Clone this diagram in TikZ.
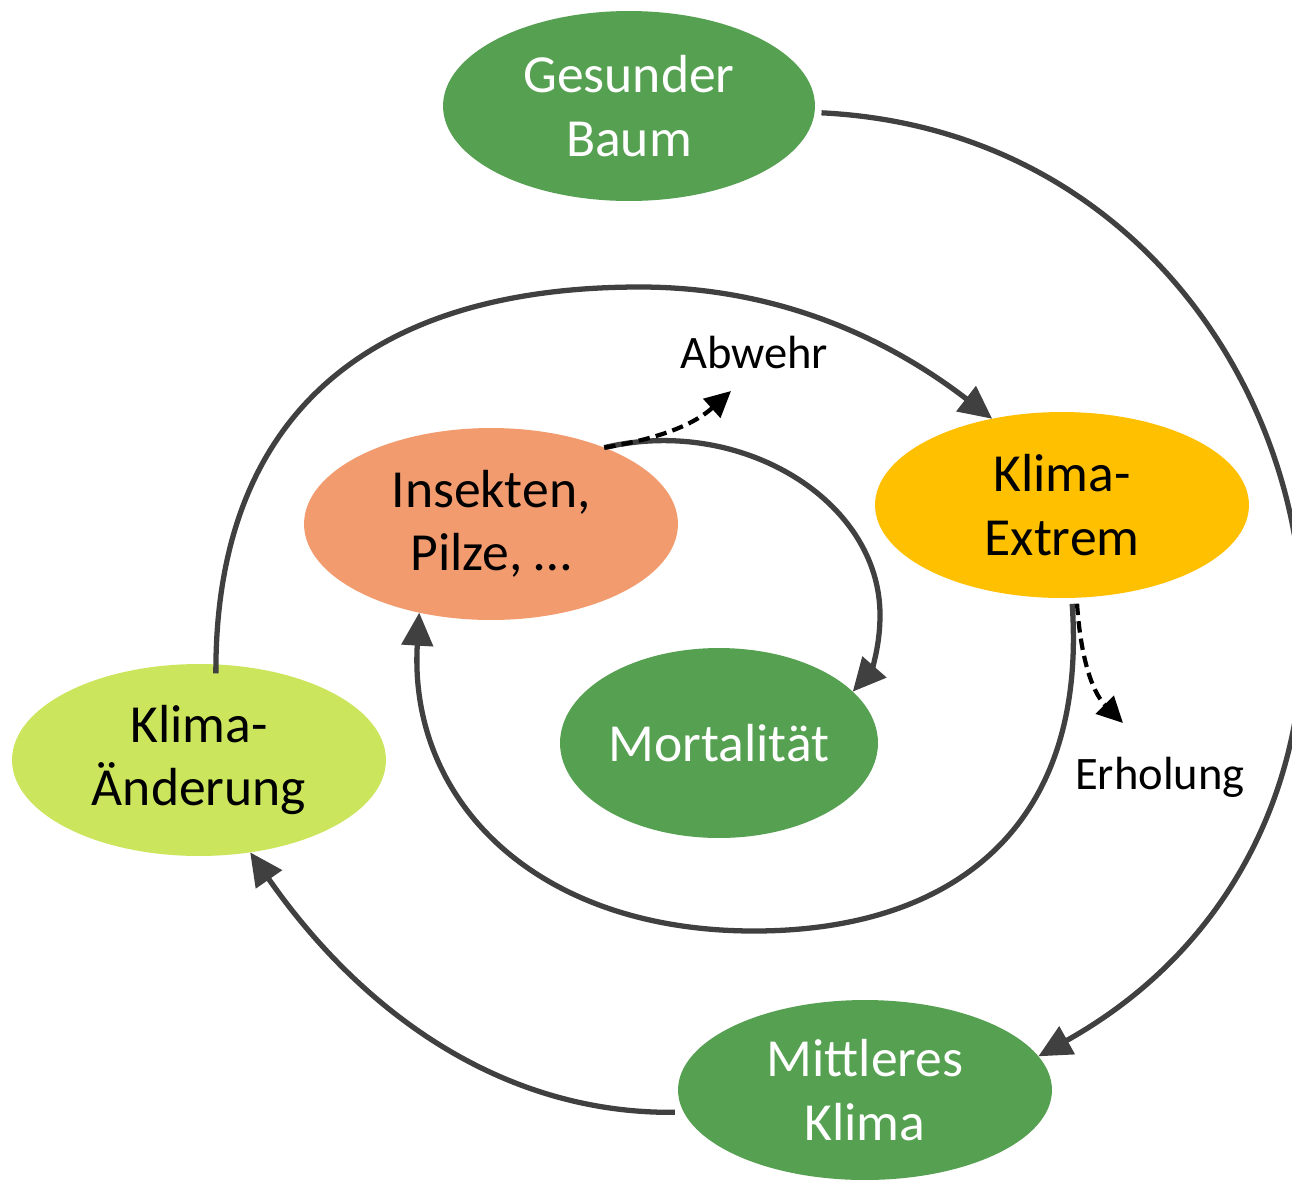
\documentclass[tikz,border=0pt]{standalone}
\usepackage{fontspec}
\setmainfont{Carlito}
\usetikzlibrary{shapes.geometric,arrows.meta}
\definecolor{cgreen}{HTML}{56A051}
\definecolor{clight}{HTML}{CBE65C}
\definecolor{corange}{HTML}{FFC000}
\definecolor{csalmon}{HTML}{F29B6E}
\definecolor{cline}{HTML}{404040}
\begin{document}
\begin{tikzpicture}[x=0.02cm,y=0.02cm,
  blob/.style={ellipse,inner sep=0pt,outer sep=0pt,align=center,font=\fontsize{30.5}{36}\selectfont},
  conn/.style={draw=cline,line width=3pt,-{Triangle[length=0.66cm,width=0.62cm]}},
  dconn/.style={draw=black,line width=2.4pt,dash pattern=on 6.5pt off 3.5pt,-{Triangle[length=0.52cm,width=0.5cm]}},
  lbl/.style={font=\fontsize{26.5}{31}\selectfont}]
\useasboundingbox (0,0) rectangle (1292,-1181);
\fill[white] (0,0) rectangle (1292,-1181);

\node[blob,fill=cgreen,text=white,minimum width=7.44cm,minimum height=3.8cm] (gb) at (629,-106) {Gesunder\\Baum};
\node[blob,fill=corange,minimum width=7.48cm,minimum height=3.72cm] (ke) at (1062,-505) {Klima-\\Extrem};
\node[blob,fill=csalmon,minimum width=7.48cm,minimum height=3.84cm] (ins) at (491,-524) {Insekten,\\Pilze, …};
\node[blob,fill=cgreen,text=white,minimum width=6.36cm,minimum height=3.8cm] (mo) at (719,-743) {Mortalität};
\node[blob,fill=clight,minimum width=7.48cm,minimum height=3.84cm] (ka) at (199,-760) {Klima-\\Änderung};
\node[blob,fill=cgreen,text=white,minimum width=7.48cm,minimum height=3.6cm] (mk) at (865,-1090) {Mittleres\\Klima};

\node[lbl] (abw) at (754,-352) {Abwehr};
\node[lbl] (erh) at (1160,-777) {Erholung};
\coordinate (abwtip) at (731,-391);
\coordinate (erhtip) at (1123,-723);
\coordinate (outertop) at (640,-287);
\coordinate (innerbot) at (754,-931);
\coordinate (mright) at (880,-615);

% Gesunder Baum -> Mittleres Klima
\draw[conn,shorten <=0.14cm] (gb.-2) .. controls +(-2.8:507) and +(29.2:507) .. (mk.11);
% Klima-Aenderung -> Klima-Extrem
\draw[conn,shorten <=-0.18cm] (ka.80) .. controls (215,-410) and (375,-287) .. (outertop)
  .. controls (780,-287) and (890,-340) .. (ke.129.5);
% Mittleres Klima -> Klima-Aenderung
\draw[conn,shorten <=0.18cm] (mk.187) .. controls (500,-1114) and (360,-1010) .. (ka.-61);
% Klima-Extrem -> Insekten
\draw[conn,shorten <=0.12cm] (ke.-84) .. controls (1088,-830) and (950,-931) .. (innerbot)
  .. controls (535,-931) and (408,-800) .. (ins.231);
% Insekten -> Mortalitaet
\draw[conn] (ins.34) .. controls (740,-415) and (880,-500) .. (mright)
  .. controls (880,-650) and (870,-672) .. (mo.21);
% dashed arrows
\draw[dconn] (ins.34) .. controls (650,-440) and (690,-428) .. (abwtip);
\draw[dconn,shorten <=0.12cm] (ke.-81) .. controls (1080,-650) and (1090,-690) .. (erhtip);
\end{tikzpicture}
\end{document}
